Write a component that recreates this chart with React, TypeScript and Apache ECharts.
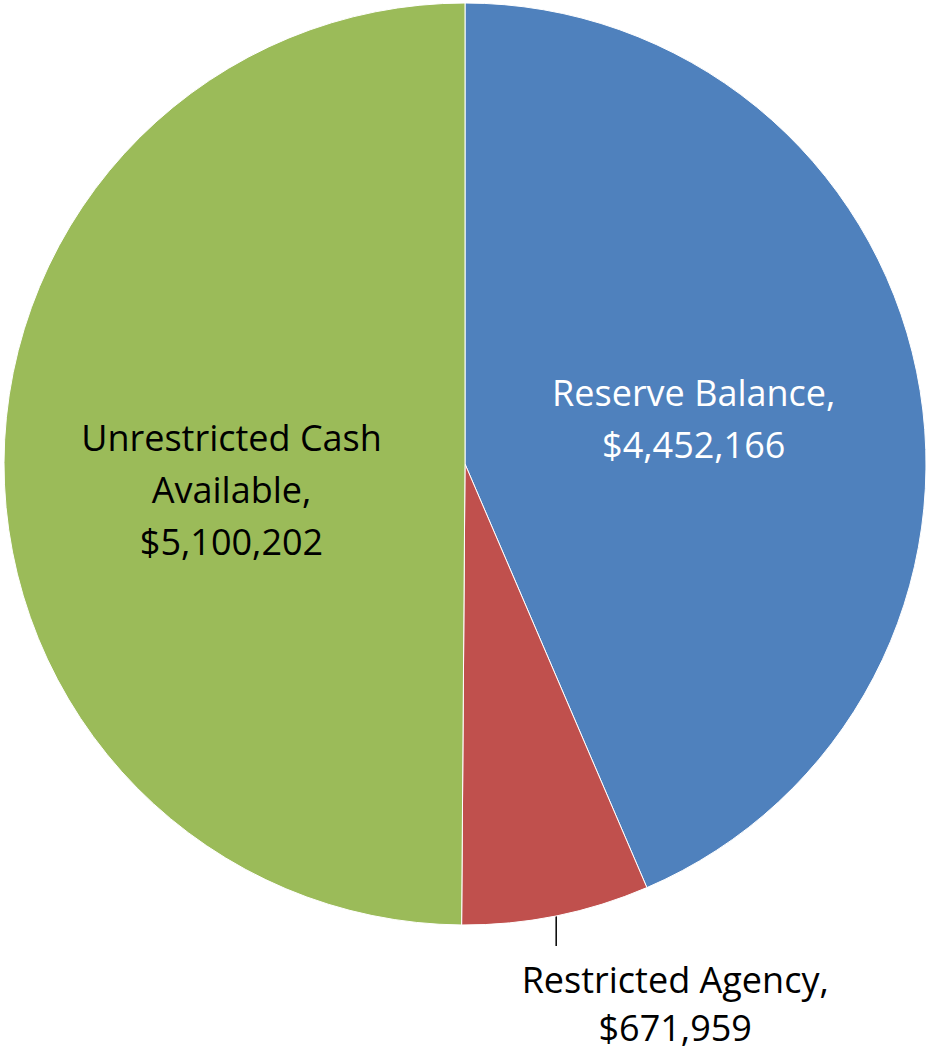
import React, { useEffect, useRef } from "react";
import * as echarts from "echarts";

const categories = ["Reserve Balance", "Restricted Agency", "Unrestricted Cash Available"];
const labelTexts = ["Reserve Balance,\n$4,452,166", "Restricted Agency,\n$671,959", "Unrestricted Cash\nAvailable,\n$5,100,202"];
const values = [4452166, 671959, 5100202];
const colors = ["#4F81BD", "#C0504D", "#9BBB59"];

export default function App() {
  const ref = useRef<HTMLDivElement>(null);
  useEffect(() => {
    const chart = echarts.init(ref.current!, null, { renderer: "svg" });
    const font = "'Open Sans', Lato, sans-serif";
    const data = categories.map((name, i) => {
      const item: any = {
        name,
        value: values[i],
        itemStyle: { color: colors[i] },
        label: {
          formatter: labelTexts[i],
          position: i === 1 ? "outside" : "inside",
          color: i === 0 ? "#ffffff" : "#000000",
          fontFamily: font,
          fontSize: 36,
          lineHeight: i === 1 ? 48 : 52,
          align: "center",
          offset: i === 2 ? [0, 26] : [0, 2],
        },
        labelLine: { show: i === 1, length: 20, length2: 0, lineStyle: { color: "#000000", width: 1.5 } },
      };
      return item;
    });
    chart.setOption({
      animation: false,
      backgroundColor: "#ffffff",
      series: [
        {
          type: "pie",
          center: [465, 464],
          radius: 461,
          startAngle: 90,
          clockwise: true,
          avoidLabelOverlap: false,
          itemStyle: { borderColor: "#ffffff", borderWidth: 1 },
          data,
          labelLayout: (params: any) => {
            if (params.dataIndex !== 1 || !params.labelLinePoints) return {};
            const p0 = params.labelLinePoints[0];
            return {
              x: p0[0] + 119,
              y: p0[1] + 88,
              align: "center",
              verticalAlign: "middle",
              labelLinePoints: [
                [p0[0], p0[1]],
                [p0[0], p0[1] + 30],
                [p0[0], p0[1] + 30],
              ],
            };
          },
        },
      ],
    });
    return () => chart.dispose();
  }, []);
  return <div ref={ref} style={{ position: "fixed", left: 0, top: 0, width: 926, height: 1053 }} />;
}
